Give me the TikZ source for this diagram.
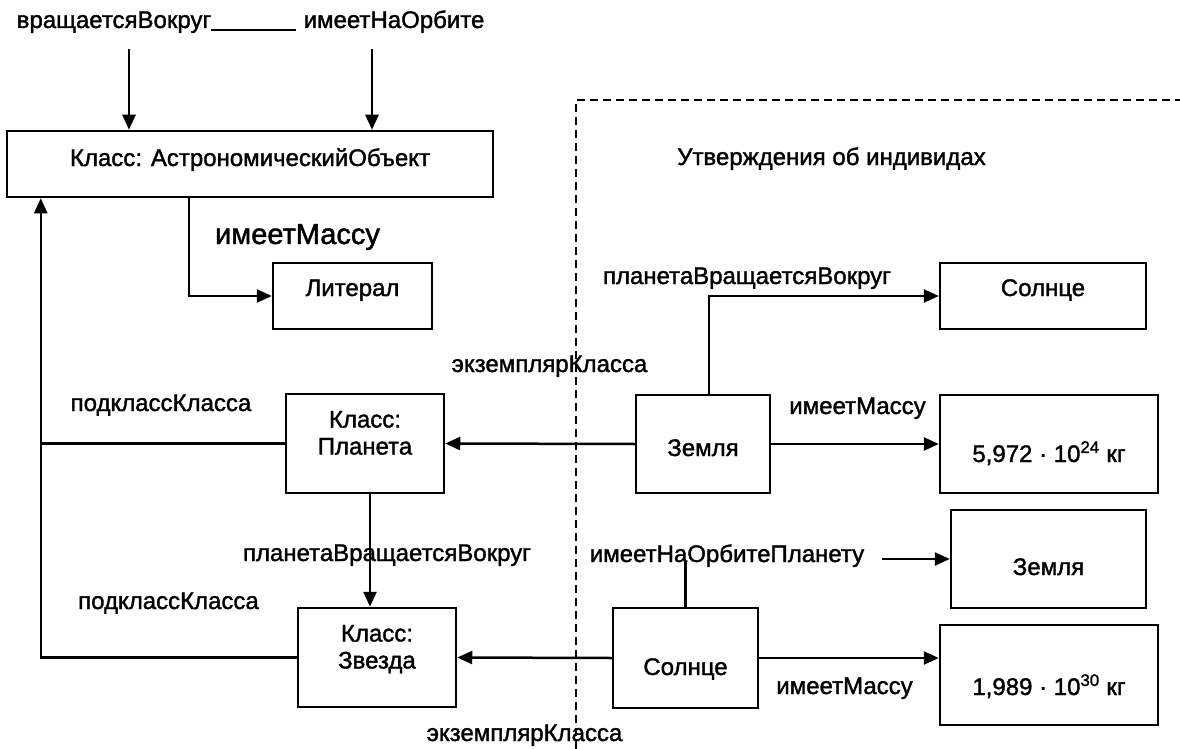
\documentclass[tikz,border=0pt]{standalone}
\usepackage{fontspec}
\setmainfont{Liberation Sans}[FakeBold=1.5]
\usetikzlibrary{calc, positioning, arrows.meta}

% text inside a box, last baseline raised by #1 from the box centre
\newcommand{\boxlines}[2]{\raisebox{#1}[0pt][0pt]{\begin{tabular}[b]{@{}c@{}}#2\end{tabular}}}

\begin{document}
\begin{tikzpicture}[x=1pt, y=-1pt,
    every node/.style={font=\fontsize{24}{27}\selectfont},
    box/.style={draw, line width=2.5pt, inner sep=0pt},
    lbl/.style={inner sep=0pt, anchor=base},
    conn/.style={line width=2.5pt},
    arr/.style={line width=2.5pt, -{Triangle[length=15pt, width=13pt]}},
    area/.style={line width=2.5pt, dash pattern=on 8pt off 5pt}]
    \useasboundingbox (0,0) rectangle (1180,749);

    % statements about individuals
    \draw[area] (576,749) -- (576,100) -- (1180,100);
    \node[lbl] (title) at (831.5,165) {Утверждения об индивидах};

    % classes
    \node[box, minimum width=486pt, minimum height=66pt] (astro) at (250,164) {\boxlines{-2pt}{Класс: АстрономическийОбъект}};
    \node[box, minimum width=159pt, minimum height=66pt] (literal) at (352.5,296) {\boxlines{0pt}{Литерал}};
    \node[box, minimum width=158pt, minimum height=99pt] (planet) at (365,443.5) {\boxlines{-11pt}{Класс:\\Планета}};
    \node[box, minimum width=158pt, minimum height=99pt] (star) at (377,657.5) {\boxlines{-11pt}{Класс:\\Звезда}};

    % individuals
    \node[box, minimum width=134pt, minimum height=98pt] (earth) at (703,444) {\boxlines{-12pt}{Земля}};
    \node[box, minimum width=206pt, minimum height=66pt] (sunR) at (1043,296) {\boxlines{0pt}{Солнце}};
    \node[box, minimum width=218pt, minimum height=98pt] (massE) at (1049,444) {\boxlines{-18pt}{5,972 · 10\textsuperscript{24} кг}};
    \node[box, minimum width=195pt, minimum height=98pt] (earthR) at (1048.5,559) {\boxlines{-16pt}{Земля}};
    \node[box, minimum width=145pt, minimum height=100pt] (sunL) at (685.5,658) {\boxlines{-17pt}{Солнце}};
    \node[box, minimum width=218pt, minimum height=100pt] (massS) at (1049,675) {\boxlines{-20pt}{1,989 · 10\textsuperscript{30} кг}};

    % property labels
    \node[lbl] (rot) at (114,28) {вращаетсяВокруг};
    \node[lbl] (orb) at (394,28) {имеетНаОрбите};
    \node[lbl, font=\fontsize{29}{33}\selectfont] (massA) at (297.5,244) {имеетМассу};
    \node[lbl] (subP) at (161,411) {подклассКласса};
    \node[lbl] (subS) at (168.5,609) {подклассКласса};
    \node[lbl] (instP) at (549.5,372) {экземплярКласса};
    \node[lbl] (instS) at (524.5,741) {экземплярКласса};
    \node[lbl] (orbitC) at (387,561) {планетаВращаетсяВокруг};
    \node[lbl] (orbitI) at (747,284) {планетаВращаетсяВокруг};
    \node[lbl] (massEl) at (857.5,414) {имеетМассу};
    \node[lbl] (massSl) at (844.5,694) {имеетМассу};
    \node[lbl] (hasP) at (727,562) {имеетНаОрбитеПланету};

    % class level connectors
    \coordinate (a1) at (129,49);
    \coordinate (a2) at (372,49);
    \draw[conn] ([yshift=-2pt]rot.base east) -- ([xshift=-7pt, yshift=-2pt]orb.base west);
    \draw[arr] (a1) -- (a1 |- astro.north);
    \draw[arr] (a2) -- (a2 |- astro.north);
    \draw[arr] ([xshift=-61pt]astro.south) |- (literal.west);
    \draw[arr] (star.west) -| ([xshift=35pt]astro.south west);
    \draw[conn] (planet.west) -- ([xshift=35pt]astro.south west |- planet.west);
    \draw[arr] ([xshift=5pt]planet.south) -- ([xshift=5pt]planet.south |- star.north);

    % individual level connectors
    \draw[arr] (earth.west) -- (planet.east);
    \draw[arr] (sunL.west) -- (star.east);
    \draw[arr] ([xshift=6pt]earth.north) |- (sunR.west);
    \draw[arr] (earth.east) -- (massE.west);
    \draw[conn] (sunL.north) -- (sunL.north |- hasP.base);
    \coordinate (o1) at (882,559);
    \draw[arr] (o1) -- (earthR.west);
    \draw[arr] (sunL.east) -- (sunL.east -| massS.west);
\end{tikzpicture}
\end{document}
